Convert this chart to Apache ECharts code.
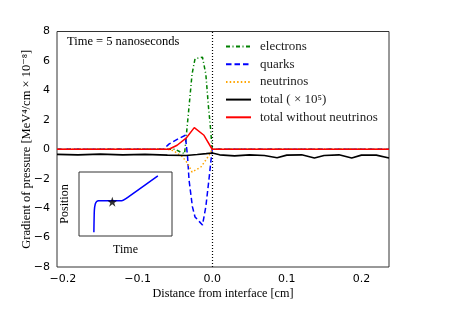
<!DOCTYPE html>
<html>
<head>
<meta charset="utf-8">
<script src="https://cdn.jsdelivr.net/npm/echarts@6/dist/echarts.min.js"></script>
<style>html,body{margin:0;padding:0;background:#fff}#c{width:457px;height:314px}</style>
</head>
<body>
<div id="c"></div>
<script>
// ---- data ----
const xTicks = [-0.2, -0.1, 0.0, 0.1, 0.2];
const yTicks = [-8, -6, -4, -2, 0, 2, 4, 6, 8];
const seriesNames = ['electrons', 'quarks', 'neutrinos', 'total ( × 10⁵)', 'total without neutrinos'];
const electrons = [[-0.208,0],[-0.05,0],[-0.042,-0.2],[-0.037,-0.3],[-0.031,2.9],[-0.027,5.1],[-0.023,6.15],[-0.013,6.25],[-0.0085,5.1],[-0.005,2.9],[-0.002,1.3],[0,0],[0.237,0]];
const quarks = [[-0.208,0],[-0.065,0],[-0.058,0.35],[-0.044,0.75],[-0.036,0.95],[-0.033,-0.5],[-0.031,-2.1],[-0.0265,-3.9],[-0.023,-4.6],[-0.0175,-4.9],[-0.013,-5.15],[-0.0085,-3.9],[-0.004,-1.9],[0,0],[0.237,0]];
const neutrinos = [[-0.208,0],[-0.06,0],[-0.052,-0.1],[-0.04,-0.5],[-0.033,-0.95],[-0.027,-1.55],[-0.015,-1.2],[-0.004,-0.4],[0,0],[0.237,0]];
const total = [[-0.208,-0.35],[-0.18,-0.38],[-0.15,-0.33],[-0.12,-0.38],[-0.09,-0.35],[-0.06,-0.4],[-0.035,-0.42],[-0.02,-0.36],[-0.008,-0.3],[0,-0.25],[0.01,-0.38],[0.03,-0.45],[0.05,-0.38],[0.07,-0.42],[0.087,-0.58],[0.1,-0.4],[0.12,-0.38],[0.137,-0.6],[0.15,-0.42],[0.17,-0.38],[0.187,-0.6],[0.2,-0.4],[0.22,-0.4],[0.237,-0.6]];
const totalNoNu = [[-0.208,0],[-0.058,0],[-0.047,0.27],[-0.035,0.75],[-0.024,1.47],[-0.011,0.95],[0,0],[0.237,0]];
const insetPath = [[0.16,0.06],[0.165,0.40],[0.175,0.50],[0.19,0.54],[0.21,0.55],[0.46,0.55],[0.50,0.58],[0.848,0.94]];
const insetStar = [[0.358,0.536]];
const annotation = 'Time = 5 nanoseconds';

const serif = 'Liberation Serif, DejaVu Serif, serif';
const sans = 'DejaVu Sans, sans-serif';
const minus = v => String(v).replace('-', '\u2212');
const starPath = 'path://M50,0 L61.8,35.3 L98.9,35.3 L69,57.1 L80.4,92.4 L50,70.6 L19.6,92.4 L31,57.1 L1.1,35.3 L38.2,35.3 Z';

const chart = echarts.init(document.getElementById('c'), null, {renderer: 'canvas'});
chart.setOption({
  animation: false,
  backgroundColor: '#fff',
  grid: [
    {left: 57, top: 31.5, right: 68, bottom: 47, show: true, borderColor: '#333', borderWidth: 1, backgroundColor: 'transparent'},
    {left: 79, top: 172, width: 93, height: 64, show: true, borderColor: '#333', borderWidth: 1, backgroundColor: '#fff', z: 5}
  ],
  xAxis: [
    {type: 'value', gridIndex: 0, min: -0.208, max: 0.237,
     axisLine: {show: false}, axisTick: {show: false}, splitLine: {show: false},
     axisLabel: {customValues: xTicks, formatter: v => minus(v.toFixed(1)), fontFamily: sans, fontSize: 11, color: '#000', margin: 7},
     name: 'Distance from interface [cm]', nameLocation: 'middle', nameGap: 21, nameMoveOverlap: false,
     nameTextStyle: {fontFamily: serif, fontSize: 12.2, color: '#000'}},
    {type: 'value', gridIndex: 1, min: 0, max: 1, axisLine: {show: false}, axisTick: {show: false}, splitLine: {show: false}, axisLabel: {show: false},
     name: 'Time', nameLocation: 'middle', nameGap: 8, nameMoveOverlap: false, nameTextStyle: {fontFamily: serif, fontSize: 12, color: '#000'}}
  ],
  yAxis: [
    {type: 'value', gridIndex: 0, min: -8, max: 8, interval: 2,
     axisLine: {show: false}, axisTick: {show: false}, splitLine: {show: false},
     axisLabel: {customValues: yTicks, formatter: v => minus(v), fontFamily: sans, fontSize: 11, color: '#000', margin: 7},
     name: 'Gradient of pressure [MeV⁴/cm × 10⁻⁸]', nameLocation: 'middle', nameGap: 24, nameMoveOverlap: false,
     nameTextStyle: {fontFamily: serif, fontSize: 12.5, color: '#000'}},
    {type: 'value', gridIndex: 1, min: 0, max: 1, axisLine: {show: false}, axisTick: {show: false}, splitLine: {show: false}, axisLabel: {show: false},
     name: 'Position', nameLocation: 'middle', nameGap: 8.5, nameMoveOverlap: false, nameTextStyle: {fontFamily: serif, fontSize: 12, color: '#000'}}
  ],
  legend: {
    orient: 'vertical', left: 225, top: 40, padding: 0, itemGap: 4.7, itemWidth: 25, itemHeight: 14,
    data: seriesNames,
    itemStyle: {opacity: 0},
    textStyle: {fontFamily: serif, fontSize: 13, color: '#222', padding: [0, 0, 0, 4]}
  },
  graphic: [
    {type: 'text', left: 67, top: 35, z: 10, style: {text: annotation, font: '12.5px ' + serif, fill: '#000'}}
  ],
  series: [
    {name: seriesNames[0], type: 'line', data: electrons, symbol: 'none', color: '#008000',
     lineStyle: {color: '#008000', width: 1.5, type: [4, 2.5, 1, 2.5]}, z: 2,
     markLine: {silent: true, symbol: 'none', label: {show: false}, data: [{xAxis: 0}],
                lineStyle: {color: '#000', width: 1.2, type: [1, 2]}}},
    {name: seriesNames[1], type: 'line', data: quarks, symbol: 'none', color: '#0000ff',
     lineStyle: {color: '#0000ff', width: 1.5, type: [5.5, 3]}, z: 3},
    {name: seriesNames[2], type: 'line', data: neutrinos, symbol: 'none', color: '#ffa500',
     lineStyle: {color: '#ffa500', width: 1.5, type: [1.5, 2.2]}, z: 4},
    {name: seriesNames[3], type: 'line', data: total, symbol: 'none', color: '#000',
     lineStyle: {color: '#000', width: 1.6}, z: 5},
    {name: seriesNames[4], type: 'line', data: totalNoNu, symbol: 'none', color: '#ff0000',
     lineStyle: {color: '#ff0000', width: 1.5}, z: 6},
    {type: 'line', xAxisIndex: 1, yAxisIndex: 1, data: insetPath, symbol: 'none', smooth: 0.2,
     lineStyle: {color: '#0000ff', width: 1.5}, z: 7},
    {type: 'scatter', xAxisIndex: 1, yAxisIndex: 1, data: insetStar, symbol: starPath, symbolSize: 10,
     itemStyle: {color: '#000'}, z: 8}
  ]
});
</script>
</body>
</html>
